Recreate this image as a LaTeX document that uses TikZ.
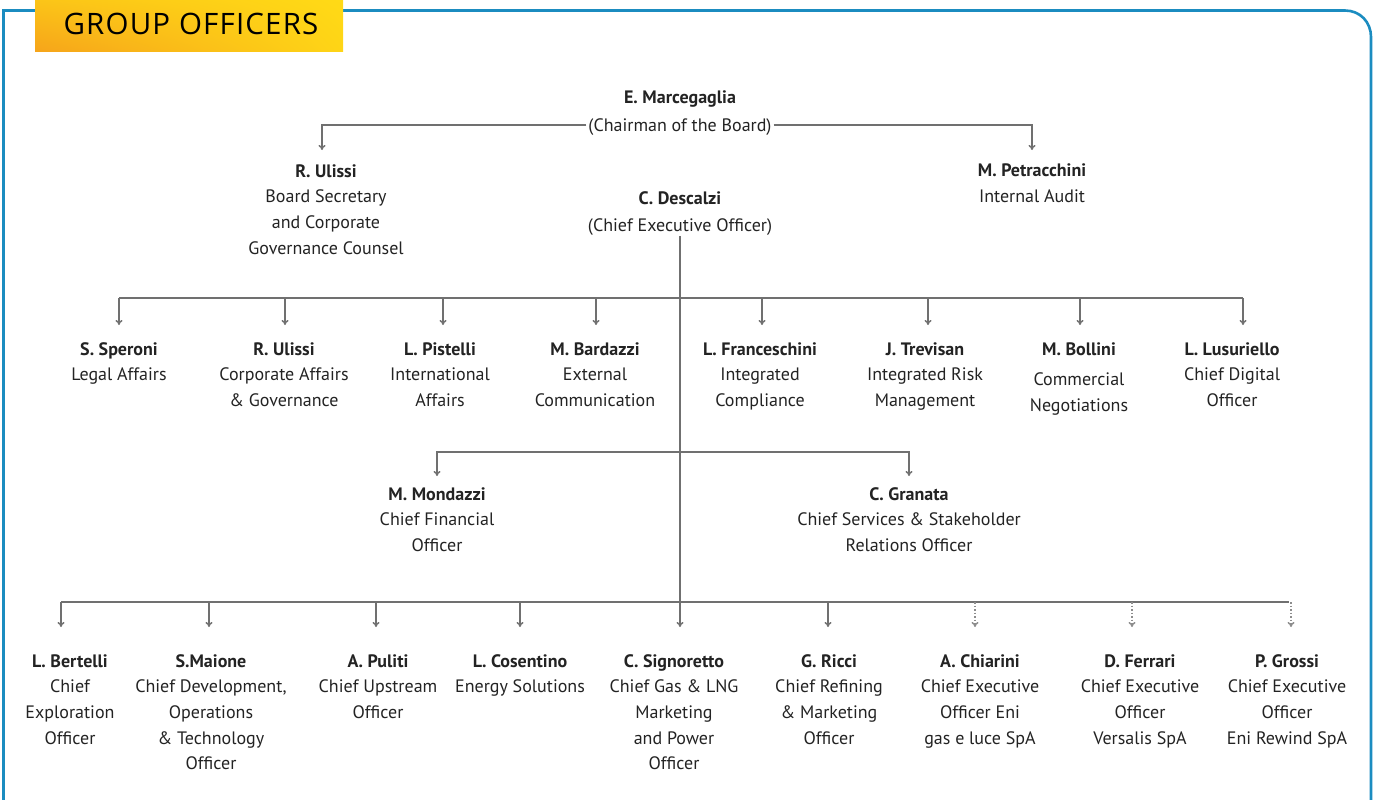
\documentclass[tikz,border=0pt]{standalone}
\usepackage{fontspec}
\setmainfont{PT Sans}
\newfontfamily\titlefont[LetterSpace=4]{Open Sans}
\usetikzlibrary{arrows.meta,shadings}
\definecolor{eniblue}{RGB}{27,140,192}
\definecolor{linegray}{RGB}{112,112,112}
\definecolor{txtgray}{RGB}{35,35,35}
\definecolor{eniorange}{RGB}{246,164,26}
\definecolor{eniyellow}{RGB}{255,218,22}

\begin{document}
\begin{tikzpicture}[x=1pt,y=-1pt,
  officer/.style={anchor=north, align=center, inner xsep=2pt, inner ysep=0pt,
    text=txtgray, font=\fontsize{18}{25.7}\selectfont},
  bus/.style={draw=linegray, line width=1.8pt},
  link/.style={draw=linegray, line width=1.5pt, -{To[length=5pt,width=7pt]}},
  dlink/.style={link, dotted, draw=linegray!80}]
  \useasboundingbox (0,0) rectangle (1373,800);

  \draw [eniblue, line width=2.6pt] (3.5,800) -- (3.5,10.5) -- (1345,10.5)
    .. controls (1360,10.5) and (1371,22) .. (1371,37) -- (1371,800);
  \shade [lower left=eniorange, upper left=eniyellow!60!eniorange,
    lower right=eniyellow!90!eniorange, upper right=eniyellow] (35,52) rectangle (343,0);
  \node (title) at (191,24) {\titlefont\fontsize{29.5}{31}\selectfont GROUP OFFICERS};

  \node [officer] (chair) at (680,91) {\textbf{E. Marcegaglia}\\[2pt](Chairman of the Board)};
  \coordinate (bus1) at (680,125);
  \node [officer] (ulissi) at (326,164) {\textbf{R. Ulissi}\\Board Secretary\\and Corporate\\Governance Counsel};
  \node [officer] (petracchini) at (1032,164) {\textbf{M. Petracchini}\\Internal Audit};
  \node [officer] (ceo) at (680,191) {\textbf{C. Descalzi}\\[2pt](Chief Executive Officer)};

  \draw [link] (chair.west |- bus1) -| ([yshift=14pt]322,0 |- ulissi.north);
  \draw [link] (chair.east |- bus1) -| ([yshift=14pt]petracchini.north);

  \coordinate (bus2) at (680,298);
  \node [officer] (speroni) at (119,342) {\textbf{S. Speroni}\\Legal Affairs};
  \node [officer] (ulissiB) at (284,342) {\textbf{R. Ulissi}\\Corporate Affairs\\\& Governance};
  \node [officer] (pistelli) at (440,342) {\textbf{L. Pistelli}\\International\\Affairs};
  \node [officer] (bardazzi) at (595,342) {\textbf{M. Bardazzi}\\External\\Communication};
  \node [officer] (franceschini) at (760,342) {\textbf{L. Franceschini}\\Integrated\\Compliance};
  \node [officer] (trevisan) at (925,342) {\textbf{J. Trevisan}\\Integrated Risk\\Management};
  \node [officer] (bollini) at (1079,342) {\textbf{M. Bollini}\\[5pt]Commercial\\Negotiations};
  \node [officer] (lusuriello) at (1232,342) {\textbf{L. Lusuriello}\\Chief Digital\\Officer};

  \draw [bus] (speroni.north |- bus2) -- (1243,0 |- bus2);
  \foreach \n/\x in {speroni/119, ulissiB/285, pistelli/443, bardazzi/596,
      franceschini/762, trevisan/928, bollini/1080, lusuriello/1243}
    \draw [link] (\x,0 |- bus2) -- ([yshift=17pt]\x,0 |- \n.north);

  \coordinate (bus3) at (680,452);
  \node [officer] (mondazzi) at (437,487) {\textbf{M. Mondazzi}\\Chief Financial\\Officer};
  \node [officer] (granata) at (909,487) {\textbf{C. Granata}\\Chief Services \& Stakeholder\\Relations Officer};
  \draw [link] (bus3) -| ([yshift=11pt]mondazzi.north);
  \draw [link] (bus3) -| ([yshift=11pt]granata.north);

  \coordinate (bus4) at (680,602);
  \node [officer] (bertelli) at (70,654) {\textbf{L. Bertelli}\\Chief\\Exploration\\Officer};
  \node [officer] (maione) at (211,654) {\textbf{S.Maione}\\Chief Development,\\Operations\\\& Technology\\Officer};
  \node [officer] (puliti) at (378,654) {\textbf{A. Puliti}\\Chief Upstream\\Officer};
  \node [officer] (cosentino) at (520,654) {\textbf{L. Cosentino}\\Energy Solutions};
  \node [officer] (signoretto) at (674,654) {\textbf{C. Signoretto}\\Chief Gas \& LNG\\Marketing\\and Power\\Officer};
  \node [officer] (ricci) at (829,654) {\textbf{G. Ricci}\\Chief Refining\\\& Marketing\\Officer};
  \node [officer] (chiarini) at (980,654) {\textbf{A. Chiarini}\\Chief Executive\\Officer Eni\\gas e luce SpA};
  \node [officer] (ferrari) at (1140,654) {\textbf{D. Ferrari}\\Chief Executive\\Officer\\Versalis SpA};
  \node [officer] (grossi) at (1287,654) {\textbf{P. Grossi}\\Chief Executive\\Officer\\Eni Rewind SpA};

  \draw [bus] (61,0 |- bus4) -- (1289,0 |- bus4);
  \draw [link] (ceo.south) -- ([yshift=27pt]680,0 |- signoretto.north);
  \foreach \n/\x in {bertelli/61, maione/209, puliti/376, cosentino/520, ricci/828}
    \draw [link] (\x,0 |- bus4) -- ([yshift=27pt]\x,0 |- \n.north);
  \foreach \n/\x in {chiarini/975, ferrari/1132, grossi/1291}
    \draw [dlink] (\x,0 |- bus4) -- ([yshift=27pt]\x,0 |- \n.north);
\end{tikzpicture}
\end{document}
